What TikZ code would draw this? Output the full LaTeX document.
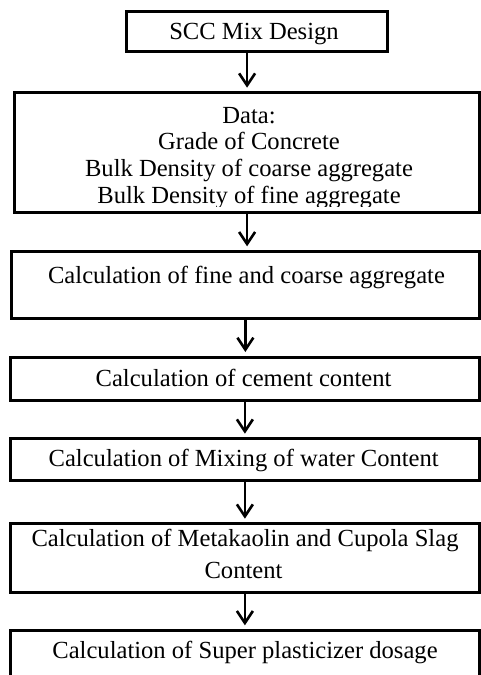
\documentclass[tikz,border=0pt]{standalone}
\usepackage{fontspec}
\setmainfont{Liberation Serif}
\usetikzlibrary{arrows.meta}
\begin{document}
\begin{tikzpicture}[x=1pt,y=-1pt,
  box/.style={draw=black,line width=3pt,rectangle,inner sep=0pt},
  lbl/.style={inner sep=0pt,anchor=base,font=\fontsize{24.6}{26.7}\selectfont},
  arr/.style={line width=2.6pt,-{Straight Barb[length=12pt,width=16pt,line width=2.6pt]},shorten >=3.5pt}]
\useasboundingbox (0,0) rectangle (481,675);
% boxes
\node[box,minimum width=261pt,minimum height=40pt] (b1) at (256.5,31.3) {};
\node[box,minimum width=464.8pt,minimum height=119.3pt] (b2) at (247.1,152.35) {};
\node[box,minimum width=468.2pt,minimum height=67.4pt] (b3) at (245.4,285) {};
\node[box,minimum width=469.2pt,minimum height=43.3pt] (b4) at (244.9,378.65) {};
\node[box,minimum width=469.2pt,minimum height=41.6pt] (b5) at (244.9,459.5) {};
\node[box,minimum width=469.2pt,minimum height=69pt] (b6) at (244.9,558.2) {};
\node[box,minimum width=469.2pt,minimum height=60pt] (b7) at (244.9,660.3) {};
% texts
\node[lbl] (t1) at (254,39.3) {SCC Mix Design};
\begin{scope}
\clip (16,95) rectangle (478,206);
\node[lbl] (t2a) at (249,123) {Data:};
\node[lbl] (t2b) at (249,149.7) {Grade of Concrete};
\node[lbl] (t2c) at (249,176.6) {Bulk Density of coarse aggregate};
\node[lbl] (t2d) at (249,203.3) {Bulk Density of fine aggregate};
\end{scope}
\node[lbl] (t3) at (246.5,283.3) {Calculation of fine and coarse aggregate};
\node[lbl] (t4) at (243.5,386.7) {Calculation of cement content};
\node[lbl] (t5) at (243.7,466.7) {Calculation of Mixing of water Content};
\node[lbl] (t6a) at (245,546) {Calculation of Metakaolin and Cupola Slag};
\node[lbl] (t6b) at (243.5,578.3) {Content};
\node[lbl] (t7) at (245,658.3) {Calculation of Super plasticizer dosage};
% arrows
\draw[arr] (b1.south -| b2.north) -- (b2.north);
\draw[arr] (b2.south) -- (b2.south |- b3.north);
\draw[arr] (b3.south) -- (b3.south |- b4.north);
\draw[arr] (b4.south) -- (b5.north);
\draw[arr] (b5.south) -- (b6.north);
\draw[arr] (b6.south) -- (b7.north);
\end{tikzpicture}
\end{document}
